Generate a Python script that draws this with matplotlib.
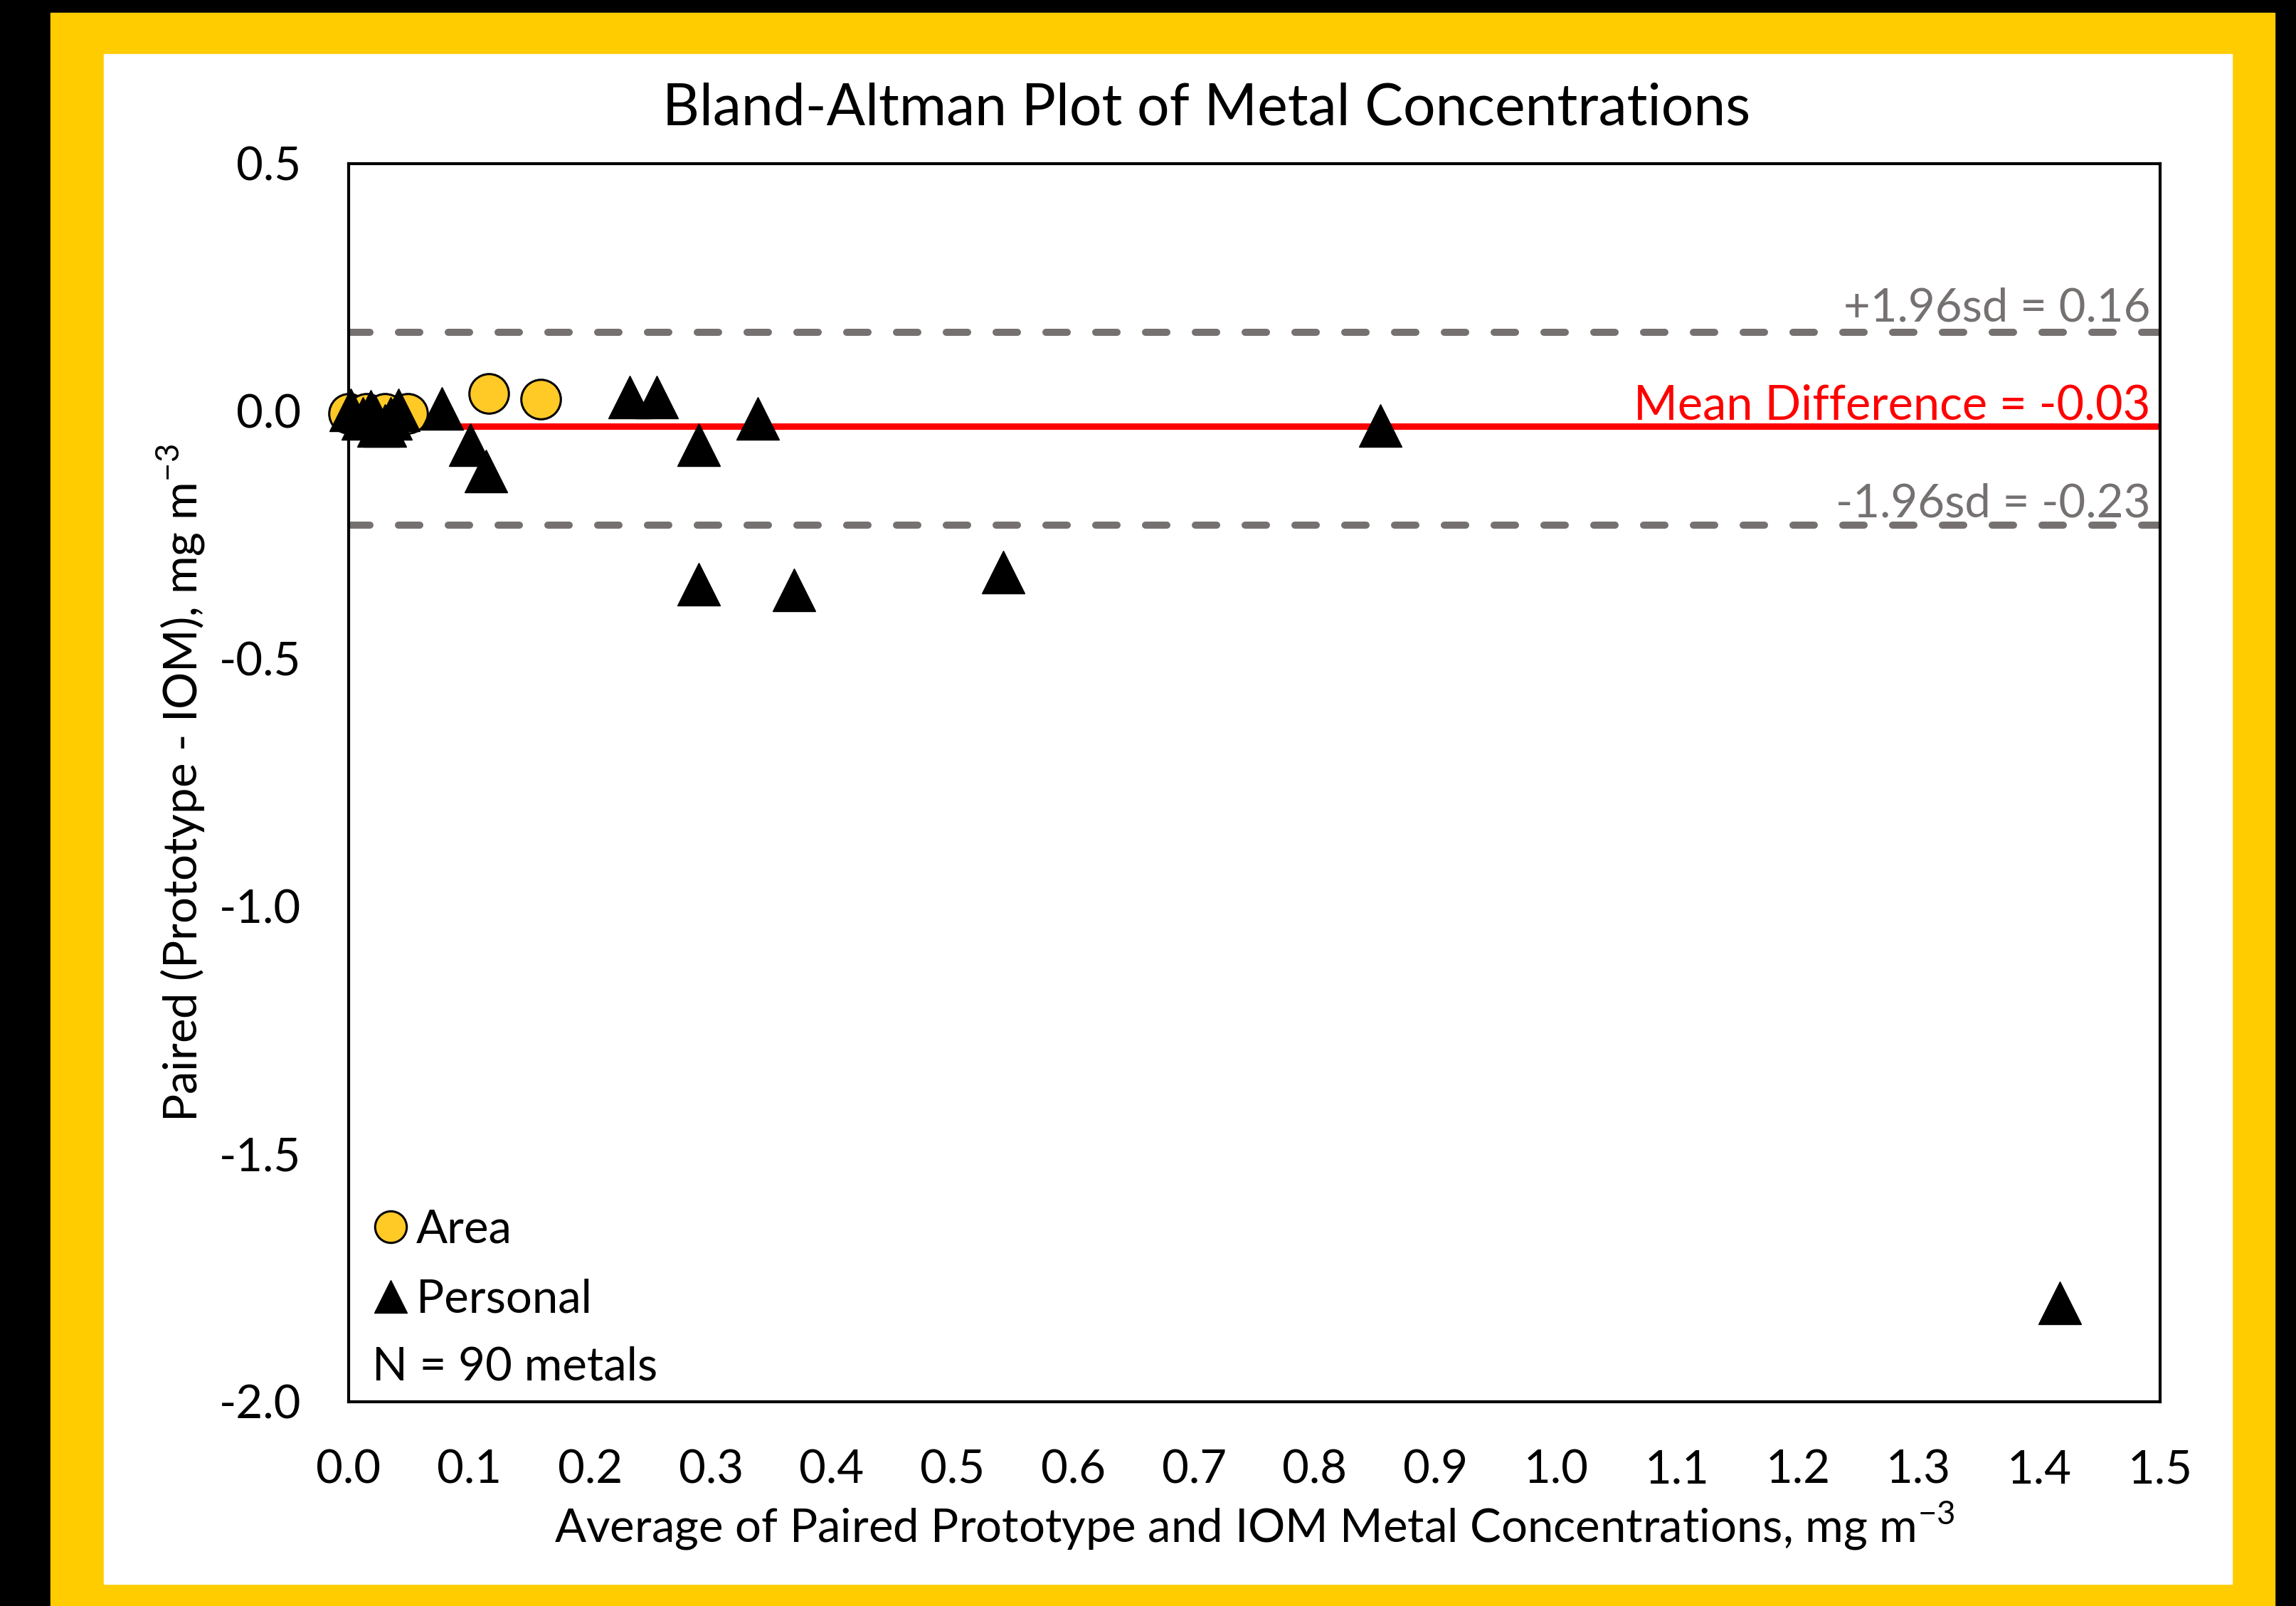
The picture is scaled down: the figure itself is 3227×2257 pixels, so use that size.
import matplotlib.pyplot as plt
from matplotlib.lines import Line2D
from matplotlib.patches import Rectangle

plt.rcParams['font.family'] = ['Lato', 'DejaVu Sans']

# data (x = average, y = difference), mg m-3
area_x = [0.000, 0.015, 0.030, 0.049, 0.116, 0.159]
area_y = [-0.004, -0.005, -0.005, -0.004, 0.036, 0.025]

personal_x = [0.002, 0.012, 0.018, 0.022, 0.025, 0.030, 0.035, 0.041,
              0.077, 0.101, 0.114, 0.233, 0.255, 0.290, 0.290, 0.339,
              0.369, 0.542, 0.854, 1.417]
personal_y = [0.003, -0.015, 0.000, -0.010, -0.029, -0.029, -0.015, 0.003,
              0.006, -0.068, -0.120, 0.029, 0.029, -0.068, -0.349, -0.015,
              -0.360, -0.325, -0.029, -1.801]

mean_diff = -0.03
upper_loa = 0.16
lower_loa = -0.23

x_ticks = [round(0.1 * i, 1) for i in range(16)]
y_ticks = [0.5, 0.0, -0.5, -1.0, -1.5, -2.0]

W, H = 3227, 2257
fig = plt.figure(figsize=(W / 100, H / 100), dpi=100)
fig.patch.set_facecolor('black')

# yellow frame + white card
fig.patches.append(Rectangle((71 / W, 0), (3197 - 71) / W, (H - 18) / H,
                             transform=fig.transFigure, color='#FFCC00', zorder=-2))
fig.patches.append(Rectangle((146 / W, 1 - 2226 / H), (3137 - 146) / W, (2226 - 76) / H,
                             transform=fig.transFigure, color='white', zorder=-1))

ax = fig.add_axes([490 / W, 1 - 1970 / H, (3036 - 490) / W, (1970 - 230) / H])
ax.set_facecolor('white')

ax.axhline(upper_loa, color='#767171', lw=7.2, ls=(0, (3, 4)),
           dash_capstyle='round', zorder=1)
ax.axhline(lower_loa, color='#767171', lw=7.2, ls=(0, (3, 4)),
           dash_capstyle='round', zorder=1)
ax.axhline(mean_diff, color='#FF0000', lw=6.5, zorder=1)

ax.plot(area_x, area_y, 'o', ms=40, mfc='#FFC926', mec='black', mew=2.2,
        ls='none', zorder=3, clip_on=False)
ax.plot(personal_x, personal_y, '^', ms=43, color='black', ls='none',
        zorder=4, clip_on=False)

fs = 47
ax.text(1.492, upper_loa + 0.022, '+1.96sd = 0.16', color='#767171', fontsize=47,
        ha='right', va='baseline')
ax.text(1.492, mean_diff + 0.013, 'Mean Difference = -0.03', color='#FF0000',
        fontsize=48, ha='right', va='baseline')
ax.text(1.492, lower_loa + 0.016, '-1.96sd = -0.23', color='#767171',
        fontsize=47, ha='right', va='baseline')

ax.set_xlim(0, 1.5)
ax.set_ylim(-2.0, 0.5)
ax.set_xticks(x_ticks)
ax.set_xticklabels([f'{t:.1f}' for t in x_ticks])
ax.set_yticks(y_ticks)
ax.set_yticklabels([f'{t:.1f}' for t in y_ticks])
ax.tick_params(length=0, labelsize=fs, pad=48)
for s in ax.spines.values():
    s.set_linewidth(3)
    s.set_zorder(5)

fig.text(824 / 1568, 1 - 74 / 1097, 'Bland-Altman Plot of Metal Concentrations',
         fontsize=58, ha='center', va='center')
ax.set_xlabel('Average of Paired Prototype and IOM Metal Concentrations, mg m$^{\\mathregular{-3}}$',
              fontsize=fs, labelpad=8)
ax.set_ylabel('Paired (Prototype - IOM), mg m$^{\\mathregular{-3}}$', fontsize=fs, labelpad=12)

handles = [Line2D([], [], marker='o', ls='none', ms=32, mfc='#FFC926', mec='black', mew=2.2),
           Line2D([], [], marker='^', ls='none', ms=33, color='black')]
ax.legend(handles, ['Area', 'Personal'], loc='upper left',
          bbox_to_anchor=(-0.005, 0.186), frameon=False, fontsize=fs,
          handlelength=0.6, handletextpad=0.25, labelspacing=0.6, borderpad=0.3)
ax.text(0.013, 0.028, 'N = 90 metals', transform=ax.transAxes, fontsize=fs,
        ha='left', va='center')

fig.savefig('out.png', dpi=100, facecolor=fig.get_facecolor())
